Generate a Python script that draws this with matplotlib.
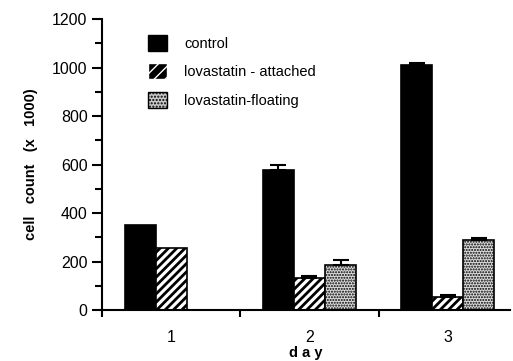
import numpy as np
import matplotlib
matplotlib.use('Agg')
import matplotlib.pyplot as plt
from matplotlib.patches import Patch

plt.rcParams['font.family'] = ['Liberation Sans', 'DejaVu Sans']

# 数据
days = ['1', '2', '3']
series = ['control', 'lovastatin - attached', 'lovastatin-floating']
control = [350, 577, 1012]
control_err = [np.nan, 20, 8]
attached = [255, 132, 54]
attached_err = [np.nan, 8, 8]
floating = [np.nan, 185, 289]
floating_err = [np.nan, 20, 8]

fig = plt.figure(figsize=(5.13, 3.61), dpi=100)
ax = fig.add_axes([0.199, 0.141, 0.795, 0.806])

x = np.arange(1, len(days) + 1)
w = 0.225
ekw = dict(elinewidth=1.5, capsize=6, capthick=1.5, ecolor='black')


def up_only(err):
    # 只画向上的误差线，第1天没有误差线
    err = np.asarray(err, dtype=float)
    low = np.where(np.isnan(err), np.nan, 0.0)
    return [low, err]


ax.bar(x - w, control, w, yerr=up_only(control_err), color='black', edgecolor='black',
       linewidth=1.2, error_kw=ekw)
with plt.rc_context({'hatch.linewidth': 2.0}):
    ax.bar(x, attached, w, yerr=up_only(attached_err), color='white', edgecolor='black',
           hatch='////', linewidth=1.2, error_kw=ekw)
with plt.rc_context({'hatch.linewidth': 1.0}):
    ax.bar(x + w, floating, w, yerr=up_only(floating_err), color='#dcdcdc', edgecolor='black',
           hatch='......', linewidth=1.2, error_kw=ekw)

ax.set_xlim(0.5, 3.45)
ax.set_ylim(0, 1200)
ax.set_yticks(np.arange(0, 1201, 200))
ax.set_yticks(np.arange(0, 1201, 100), minor=True)
ax.set_xticks(x)
ax.set_xticklabels(days)
ax.set_xticks([0.5, 1.5, 2.5], minor=True)

ax.spines['top'].set_visible(False)
ax.spines['right'].set_visible(False)
ax.spines['left'].set_linewidth(1.5)
ax.spines['bottom'].set_linewidth(1.5)
ax.tick_params(axis='y', which='both', direction='out', width=1.5, labelsize=11.5)
ax.tick_params(axis='y', which='major', length=7)
ax.tick_params(axis='y', which='minor', length=5)
ax.tick_params(axis='x', which='major', length=0, pad=14, labelsize=11.5)
ax.tick_params(axis='x', which='minor', length=5, width=1.5)

ax.set_ylabel('cell   count   (x   1000)', fontweight='bold', fontsize=10.5, labelpad=10)
ax.set_xlabel('d a y', fontweight='bold', fontsize=10.5, labelpad=1)

with plt.rc_context({'hatch.linewidth': 1.5}):
    handles = [Patch(facecolor='black', edgecolor='black'),
               Patch(facecolor='black', edgecolor='white', hatch='///'),
               Patch(facecolor='#c8c8c8', edgecolor='black', hatch='.....')]
ax.legend(handles, series, loc='upper left', bbox_to_anchor=(0.08, 0.99),
          frameon=False, fontsize=10.5, handlelength=1.3, handleheight=1.3,
          handletextpad=1.2, labelspacing=0.85)

plt.savefig('out.png', dpi=100)
